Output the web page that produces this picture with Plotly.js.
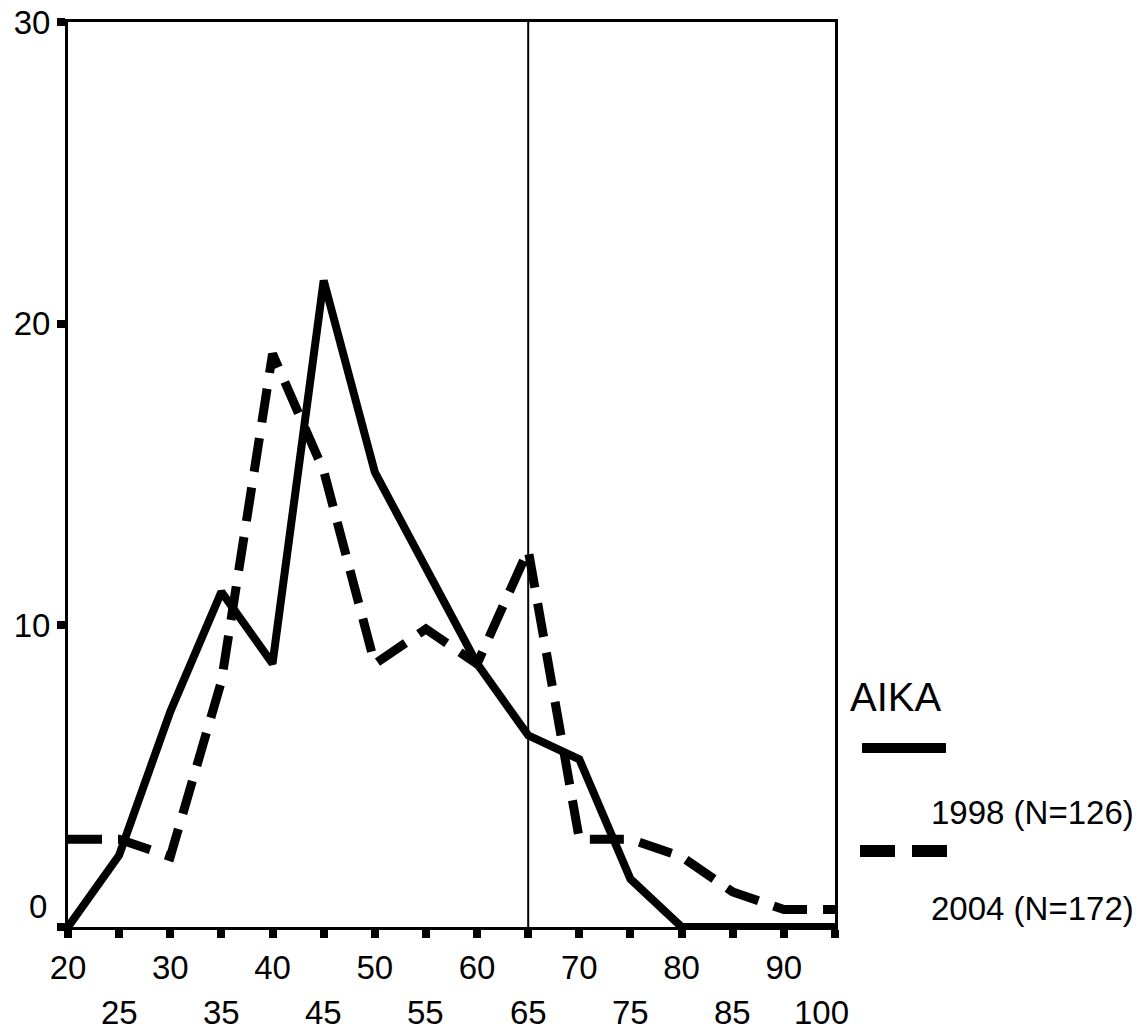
<!DOCTYPE html>
<html><head><meta charset="utf-8">
<script src="https://cdn.plot.ly/plotly-3.0.1.min.js"></script>
<style>html,body{margin:0;padding:0;background:#fff}</style>
</head><body><div id="chart" style="width:1140px;height:1035px"></div>
<script>
// ---- data ----
const ages = [20,25,30,35,40,45,50,55,60,65,70,75,80,85,90,95];
const pct1998 = [0,2.38,7.14,11.11,8.73,21.43,15.08,11.9,8.73,6.35,5.56,1.59,0,0,0,0];
const pct2004 = [2.91,2.91,2.33,8.14,19.0,15.12,8.72,9.88,8.72,12.5,2.91,2.91,2.33,1.16,0.58,0.58];
const name1998 = '1998 (N=126)';
const name2004 = '2004 (N=172)';
const legendTitle = 'AIKA';
const xTicksAll = [20,25,30,35,40,45,50,55,60,65,70,75,80,85,90,95];
const xTicksRow1 = [20,30,40,50,60,70,80,90];
const xLabelsRow1 = ['20','30','40','50','60','70','80','90'];
const xTicksRow2 = [25,35,45,55,65,75,85,95];
const xLabelsRow2 = ['25','35','45','55','65','75','85','100'];
const yTicks = [0,10,20,30];
const yLabels = ['','10','20','30'];
const refLineAge = 65;

// ---- layout helpers (pixel -> paper) ----
const W=1140,H=1035,L=68,R=305,T=22,B=108;
const pw=W-L-R, ph=H-T-B;
const px=(x)=>(x-L)/pw, py=(y)=>1-(y-T)/ph;
const FONT='"Liberation Sans", Arial, sans-serif';
const FS=33;

const traces = [
  {x:ages, y:pct1998, mode:'lines', name:name1998, line:{color:'#000', width:8}, showlegend:false, cliponaxis:false},
  {x:ages, y:pct2004, mode:'lines', name:name2004, line:{color:'#000', width:9, dash:'34px,16px'}, showlegend:false, cliponaxis:false}
];

const row2Annotations = xTicksRow2.map((v,i)=>({
  xref:'x', yref:'paper', x:v, y:py(1012), xanchor:'center', yanchor:'middle',
  xshift: (xLabelsRow2[i]==='100') ? -14 : 0,
  text:xLabelsRow2[i], showarrow:false, font:{size:FS}
}));

const layout = {
  width:W, height:H,
  margin:{l:L, r:R, t:T, b:B, pad:0},
  paper_bgcolor:'#fff', plot_bgcolor:'#fff',
  font:{family:FONT, color:'#000', size:FS},
  showlegend:false,
  xaxis:{range:[20,95], tickmode:'array', tickvals:xTicksAll,
    ticktext:xTicksAll.map(v=>{const i=xTicksRow1.indexOf(v);return i>=0?xLabelsRow1[i]:'';}),
    ticks:'outside', ticklen:8, tickwidth:8, tickcolor:'#000',
    showline:true, linewidth:3, linecolor:'#000', mirror:true,
    showgrid:false, zeroline:false, ticklabelstandoff:1, tickfont:{size:FS}},
  yaxis:{range:[0,30], tickmode:'array', tickvals:yTicks, ticktext:yLabels,
    ticks:'outside', ticklen:8, tickwidth:8, tickcolor:'#000',
    showline:true, linewidth:3, linecolor:'#000', mirror:true,
    showgrid:false, zeroline:false, ticklabelstandoff:0, tickfont:{size:FS}},
  shapes:[
    {type:'line', xref:'x', yref:'paper', x0:refLineAge, x1:refLineAge, y0:0, y1:1, line:{color:'#000', width:2}},
    {type:'line', xref:'paper', yref:'paper', x0:px(862), x1:px(946), y0:py(748), y1:py(748), line:{color:'#000', width:10}},
    {type:'line', xref:'paper', yref:'paper', x0:px(860), x1:px(947), y0:py(851), y1:py(851), line:{color:'#000', width:12, dash:'35px,17px'}}
  ],
  annotations:[
    {xref:'paper', yref:'y', x:0, y:0, xanchor:'right', yanchor:'middle', xshift:-19, yshift:21, text:'0', showarrow:false, font:{size:FS}},
    {xref:'paper', yref:'paper', x:px(848), y:py(697), xanchor:'left', yanchor:'middle', text:legendTitle, showarrow:false, font:{size:40}},
    {xref:'paper', yref:'paper', x:px(929), y:py(812), xanchor:'left', yanchor:'middle', text:name1998, showarrow:false, font:{size:33}},
    {xref:'paper', yref:'paper', x:px(929), y:py(908), xanchor:'left', yanchor:'middle', text:name2004, showarrow:false, font:{size:33}}
  ].concat(row2Annotations)
};
Plotly.newPlot('chart', traces, layout, {displayModeBar:false, staticPlot:true});
</script></body></html>
